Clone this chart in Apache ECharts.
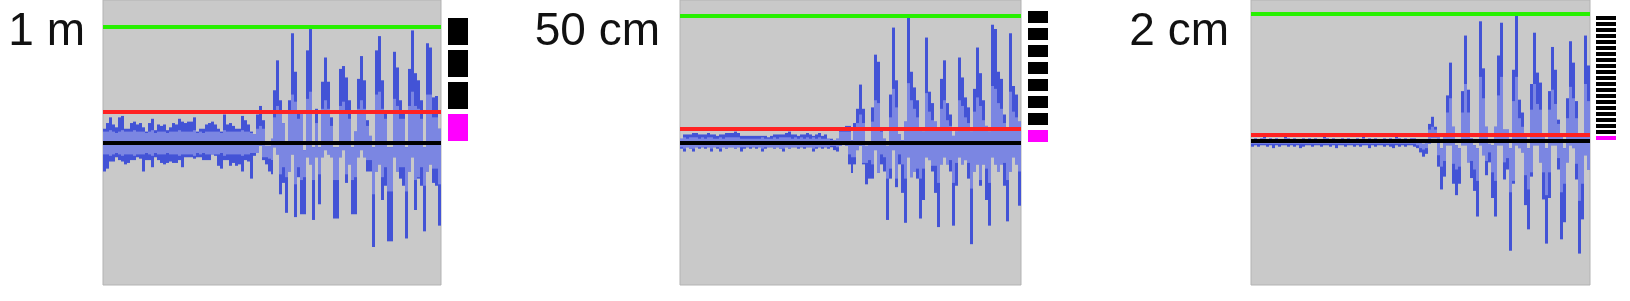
<!DOCTYPE html>
<html><head><meta charset="utf-8">
<script src="https://cdn.jsdelivr.net/npm/echarts@6/dist/echarts.min.js"></script>
<style>html,body{margin:0;padding:0;background:#fff}#c{width:1630px;height:301px}</style>
</head><body><div id="c"></div>
<script>
// ---- data (amplitude in % of full scale) ----
const panelLabels = ['1 m', '50 cm', '2 cm'];
const peakLevels = [81.4, 89.1, 89.1];     // green lines
const noiseLevels = [21.8, 9.8, 4.2];      // red lines
const zeroLevels = [0, 0, 0];              // black lines
const squareLevels1 = [0, 1, 2, 3];
const squareLevels2 = [0, 1, 2, 3, 4, 5, 6, 7];
const squareLevels3 = [0, 1, 2, 3, 4, 5, 6, 7, 8, 9, 10, 11, 12, 13, 14, 15, 16, 17, 18, 19, 20];

const p1Max = [10,14,18,13,11,18,19,10,10,14,15,13,14,11,8,14,17,9,13,12,13,9,11,14,13,17,15,14,15,15,18,8,10,10,13,14,15,13,10,8,20,13,14,12,10,10,19,16,13,8,
  6,20,26,16,-2,-2,3,37,58,30,14,0,30,77,50,21,21,-5,65,80,-3,24,-3,43,60,43,18,-3,-3,52,54,46,30,-3,8,45,61,44,16,5,-3,65,75,44,21,-3,-3,64,53,30,22,-3,52,79,49,44,30,-3,70,67,32,33,10];
const p1Min = [-20,-18,-13,-13,-10,-12,-13,-15,-14,-12,-12,-10,-11,-20,-12,-12,-17,-10,-12,-14,-15,-14,-13,-14,-14,-12,-17,-10,-10,-10,-11,-10,-10,-12,-12,-12,-8,-9,-16,-18,-12,-12,-16,-14,-16,-15,-20,-12,-13,-25,
  -9,-7,-2,-12,-15,-20,-22,-3,-8,-36,-28,-49,-20,-8,-52,-24,-50,-50,-10,-15,-54,-10,-43,-10,-5,-8,-10,-53,-53,-10,-5,-28,-15,-50,-50,-10,-5,-10,-20,-20,-73,-20,-15,-40,-30,-69,-69,-10,-20,-25,-30,-67,-20,-10,-47,-25,-30,-62,-20,-15,-28,-30,-58];
const p1Rms = [8,8,9,8,7,8,9,8,8,8,9,8,8,8,7,8,9,7,8,8,8,7,8,8,8,9,8,8,8,8,9,7,8,7,8,8,8,8,8,7,9,8,8,8,8,8,9,8,8,7,
  7,10,12,10,10,11,12,18,26,22,17,24,22,34,29,17,26,24,31,36,26,14,22,24,30,24,12,26,26,26,29,22,17,26,24,24,30,24,12,12,36,34,36,24,17,34,34,31,26,17,17,34,26,36,26,24,17,30,34,34,18,18,29];

const p2Max = [3,6,6,6,7,7,6,6,6,7,6,6,5,6,6,7,7,7,8,7,5,5,5,5,5,5,5,5,5,4,5,6,6,6,6,7,8,6,6,5,6,6,7,6,5,6,7,5,6,3,3,2,
  3,9,9,12,12,2,14,24,41,24,-2,1,25,62,57,10,3,-2,34,81,44,6,2,15,88,50,39,30,10,8,74,36,28,15,10,45,58,28,20,5,8,60,46,32,25,8,38,67,49,30,12,8,83,80,50,45,20,10,77,40,34,15];
const p2Min = [-4,-6,-3,-4,-6,-3,-4,-3,-4,-3,-6,-3,-4,-6,-3,-4,-3,-3,-4,-3,-6,-4,-3,-4,-3,-4,-3,-6,-4,-3,-3,-4,-3,-4,-6,-3,-4,-3,-3,-4,-3,-4,-3,-3,-6,-4,-3,-4,-3,-4,-3,-5,
  -6,-2,-1,-2,-15,-21,-15,-5,-2,-15,-29,-25,-25,-5,-21,-15,-20,-54,-25,-5,-31,-15,-35,-56,-10,-24,-20,-25,-53,-40,-10,-12,-20,-35,-59,-15,-10,-15,-20,-58,-30,-10,-15,-12,-25,-71,-20,-15,-30,-15,-40,-58,-10,-15,-20,-15,-30,-55,-20,-10,-15,-44];
const p2Rms = [3,4,3,4,4,4,3,4,3,4,4,3,3,4,3,4,4,4,4,4,3,3,3,3,3,3,3,4,3,3,3,4,3,4,4,4,4,3,4,3,4,3,4,3,4,3,4,3,3,3,2,2,
  3,8,8,8,8,10,10,14,20,14,14,12,15,30,28,8,10,25,18,38,25,8,15,25,42,30,24,18,25,18,35,22,16,16,28,24,30,16,12,28,14,30,26,18,14,32,22,32,26,16,18,28,40,38,28,24,14,26,36,22,18,20];

const p3Max = [1,2,1,2,3,1,2,1,2,1,1,3,2,1,2,1,1,2,1,2,1,2,1,1,3,2,1,2,1,1,2,1,2,1,1,2,1,3,1,2,1,2,1,1,2,1,2,1,3,2,1,2,1,
  2,2,1,-1,-2,1,12,17,10,3,-5,5,32,55,10,-3,-5,35,74,36,2,-3,-5,84,51,10,-2,-3,10,60,83,8,8,-5,50,88,29,20,3,-5,40,76,48,41,5,-5,35,66,50,15,5,-5,30,70,55,28,5,3,74,53];
const p3Min = [-4,-3,-4,-3,-3,-4,-3,-5,-3,-4,-3,-3,-4,-3,-4,-3,-5,-4,-3,-3,-4,-3,-3,-4,-3,-3,-4,-3,-5,-3,-3,-4,-3,-3,-4,-3,-4,-3,-3,-5,-3,-4,-3,-3,-4,-3,-4,-5,-3,-4,-3,-4,-3,
  -3,-4,-5,-8,-11,-9,-2,2,2,-18,-34,-25,-3,-3,-30,-38,-30,-3,-3,-15,-26,-35,-53,-3,-10,-24,-15,-40,-53,-3,-3,-27,-20,-77,-30,-3,-5,-8,-45,-62,-25,-3,-3,-15,-41,-72,-40,-3,-3,-20,-69,-57,-15,-3,-5,-27,-79,-55,-10,-20];
const p3Rms = [2,2,2,2,2,2,2,2,2,2,2,2,2,2,2,2,2,2,2,2,2,2,2,2,2,2,2,2,2,2,2,2,2,2,2,2,2,2,2,2,2,2,2,2,2,2,2,2,2,2,2,2,2,
  2,2,3,5,6,5,8,10,8,10,18,14,20,30,16,20,18,20,40,20,14,20,28,45,30,14,8,22,28,32,45,15,12,36,28,45,16,10,24,34,22,40,26,22,22,38,22,36,26,12,36,30,16,38,30,16,42,30,40,28];

// ---- layout / style ----
const DARK = '#4353d6', LIGHT = '#7b86e2';
const panels = [
  {max: p1Max, min: p1Min, rms: p1Rms, sq: squareLevels1, left: 103, width: 338, sqLeft: 448, labelX: 85, yMin: -99.65, yMax: 100.35, sqStep: 22.46, sqOff: 1.4, sqH: 18.95},
  {max: p2Max, min: p2Min, rms: p2Rms, sq: squareLevels2, left: 680, width: 341, sqLeft: 1028, labelX: 660, yMin: -99.65, yMax: 100.35, sqStep: 11.93, sqOff: 0.7, sqH: 8.42},
  {max: p3Max, min: p3Min, rms: p3Rms, sq: squareLevels3, left: 1251, width: 339, sqLeft: 1596, labelX: 1229, yMin: -101.05, yMax: 98.95, sqStep: 4.21, sqOff: 0.7, sqH: 2.81}
];

function waveItem(params, api) {
  const x = api.value(0), lo = api.value(1), hi = api.value(2), r = api.value(3);
  const a = api.coord([x, hi]), b = api.coord([x + 1, lo]);
  const x0 = Math.round(a[0]), x1 = Math.round(b[0]);
  const kids = [{type: 'rect', shape: {x: x0, y: a[1], width: x1 - x0, height: Math.max(1, b[1] - a[1])}, style: {fill: DARK}}];
  const rh = Math.min(hi, r), rl = Math.max(lo, -r);
  if (rh > rl) {
    const c = api.coord([x, rh]), d = api.coord([x + 1, rl]);
    kids.push({type: 'rect', shape: {x: x0, y: c[1], width: x1 - x0, height: d[1] - c[1]}, style: {fill: LIGHT}});
  }
  return {type: 'group', children: kids};
}

const grid = [], xAxis = [], yAxis = [], series = [], graphic = [];
panels.forEach((p, k) => {
  const n = p.max.length;
  const gi = grid.length;
  grid.push({left: p.left, top: 0, width: p.width, height: 285, show: true, backgroundColor: '#c9c9c9', borderColor: '#b3b3b3', borderWidth: 1});
  xAxis.push({type: 'value', gridIndex: gi, min: 0, max: n, show: false});
  yAxis.push({type: 'value', gridIndex: gi, min: p.yMin, max: p.yMax, show: false});
  series.push({
    type: 'custom', xAxisIndex: gi, yAxisIndex: gi, z: 2, silent: true,
    renderItem: waveItem,
    encode: {x: 0, y: [1, 2]},
    data: p.max.map((v, i) => [i, p.min[i], v, p.rms[i]])
  });
  [[peakLevels[k], '#27f000'], [noiseLevels[k], '#ff2222'], [zeroLevels[k], '#000000']].forEach(([lv, col], j) => {
    series.push({
      type: 'line', xAxisIndex: gi, yAxisIndex: gi, z: 5 + j, silent: true, showSymbol: false,
      lineStyle: {color: col, width: 4}, data: [[0, lv], [n, lv]]
    });
  });
  const si = grid.length;
  grid.push({left: p.sqLeft, top: 0, width: 20, height: 285, show: false});
  xAxis.push({type: 'value', gridIndex: si, min: 0, max: 1, show: false});
  yAxis.push({type: 'value', gridIndex: si, min: p.yMin, max: p.yMax, show: false});
  series.push({
    type: 'custom', xAxisIndex: si, yAxisIndex: si, silent: true,
    renderItem: (params, api) => {
      const lvl = api.value(0);
      const b = p.sqOff + lvl * p.sqStep;
      const a1 = api.coord([0, b + p.sqH]), a2 = api.coord([1, b]);
      return {type: 'rect', shape: {x: a1[0], y: Math.round(a1[1]), width: a2[0] - a1[0], height: Math.round(a2[1]) - Math.round(a1[1])},
        style: {fill: lvl === 0 ? '#ff00ff' : '#000000'}};
    },
    encode: {x: 0, y: 0},
    data: p.sq.map(v => [v])
  });
  graphic.push({type: 'text', x: p.labelX, y: 32, style: {text: panelLabels[k], font: '46px "Liberation Sans", Arial, sans-serif', fill: '#111', align: 'right', verticalAlign: 'middle'}});
});

const chart = echarts.init(document.getElementById('c'), null, {renderer: 'canvas'});
chart.setOption({animation: false, backgroundColor: '#ffffff', grid, xAxis, yAxis, series, graphic});
</script></body></html>
